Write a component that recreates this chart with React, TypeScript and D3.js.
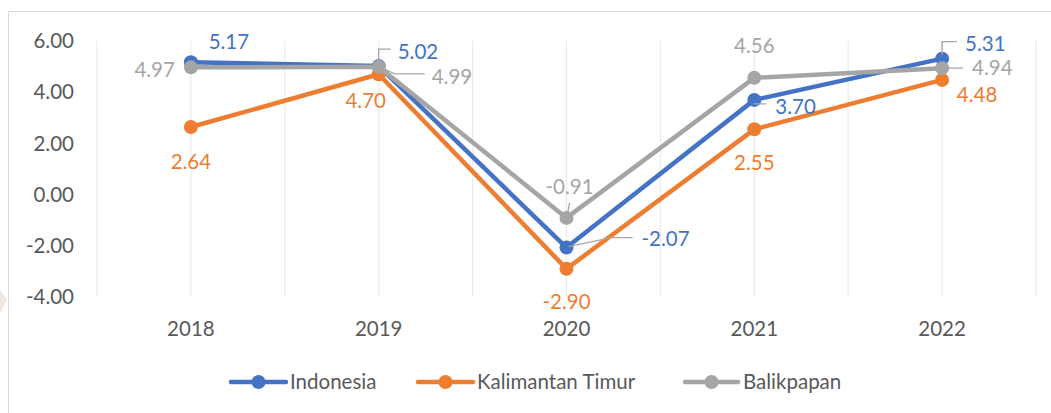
import React from "react";
import * as d3 from "d3";

const years = ["2018", "2019", "2020", "2021", "2022"];
const indonesia = [5.17, 5.02, -2.07, 3.7, 5.31];
const kaltim = [2.64, 4.7, -2.9, 2.55, 4.48];
const balikpapan = [4.97, 4.99, -0.91, 4.56, 4.94];
const seriesNames = ["Indonesia", "Kalimantan Timur", "Balikpapan"];
const yTicks = [-4, -2, 0, 2, 4, 6];

const colors = ["#4472C4", "#ED7D31", "#A5A5A5"];
const W = 1051;
const H = 413;
const FONT = "Lato, 'Open Sans', sans-serif";
const FS = 20.5;

type Lab = { dx: number; dy: number; anchor: string; leader?: [number, number][] };

// label placement offsets relative to each point (style only)
const labelPos: Lab[][] = [
  [
    { dx: 38, dy: -20, anchor: "middle" },
    { dx: 19, dy: -14, anchor: "start", leader: [[0, -4], [0, -17], [12, -17]] },
    { dx: 75, dy: -9, anchor: "start", leader: [[2, -1], [45, -10], [66, -10]] },
    { dx: 21, dy: 7, anchor: "start", leader: [[0, 3], [0, 4], [12, 4]] },
    { dx: 23, dy: -15, anchor: "start", leader: [[0, -4], [0, -17], [15, -17]] },
  ],
  [
    { dx: 0, dy: 35, anchor: "middle" },
    { dx: -13, dy: 27, anchor: "middle" },
    { dx: 0, dy: 33, anchor: "middle" },
    { dx: 0, dy: 34, anchor: "middle" },
    { dx: 35, dy: 15, anchor: "middle" },
  ],
  [
    { dx: -16, dy: 2, anchor: "end" },
    { dx: 53, dy: 10, anchor: "start", leader: [[3, 1], [16, 7], [46, 7]] },
    { dx: 3, dy: -31, anchor: "middle", leader: [[1, -4], [3, -15]] },
    { dx: 0, dy: -32, anchor: "middle" },
    { dx: 30, dy: 0, anchor: "start", leader: [[6, 0], [21, 0]] },
  ],
];

export default function App() {
  const x = d3.scaleBand<string>().domain(years).range([97, 1036]).padding(0);
  const cx = (d: string) => (x(d) as number) + x.bandwidth() / 2;
  const y = d3.scaleLinear().domain([-4, 6]).range([297, 41]);
  const f2 = d3.format(".2f");
  const fmt = (v: number) => f2(v).replace("\u2212", "-");
  const all = [indonesia, kaltim, balikpapan];
  const line = d3
    .line<number>()
    .x((_, i) => cx(years[i]))
    .y((v) => y(v));

  const gridXs: number[] = [];
  years.forEach((yr) => {
    gridXs.push(x(yr) as number);
    gridXs.push(cx(yr));
  });
  gridXs.push(x.range()[1]);

  const legendItems = [
    { x1: 231, x2: 286, tx: 290 },
    { x1: 418, x2: 473, tx: 477 },
    { x1: 685, x2: 738, tx: 743 },
  ];

  return (
    <svg
      width={W}
      height={H}
      style={{ position: "absolute", left: 0, top: 0, background: "#fff" }}
      fontFamily={FONT}
    >
      <rect x={0} y={0} width={W} height={H} fill="#fff" />
      <path d="M0,290 L7,300 L0,313 Z" fill="#f3e6df" />
      <rect x={8.5} y={11.5} width={1100} height={500} fill="#fff" stroke="#D9D9D9" strokeWidth={1} />
      {gridXs.map((gx, i) => (
        <line key={i} x1={gx} x2={gx} y1={y(6)} y2={y(-4)} stroke="#EBEBEB" strokeWidth={1.2} />
      ))}
      {yTicks.map((t) => (
        <text key={t} x={74} y={y(t)} dy="0.35em" textAnchor="end" fontSize={FS} fill="#595959">
          {fmt(t)}
        </text>
      ))}
      {years.map((yr) => (
        <text key={yr} x={cx(yr)} y={329} dy="0.35em" textAnchor="middle" fontSize={FS} fill="#595959">
          {yr}
        </text>
      ))}
      {all.map((s, si) => (
        <g key={si}>
          <path d={line(s) || ""} fill="none" stroke={colors[si]} strokeWidth={4.5} strokeLinejoin="round" />
          {s.map((v, i) => (
            <circle key={i} cx={cx(years[i])} cy={y(v)} r={7} fill={colors[si]} />
          ))}
        </g>
      ))}
      {all.map((s, si) =>
        s.map((v, i) => {
          const px = cx(years[i]);
          const py = y(v);
          const lp = labelPos[si][i];
          return (
            <g key={`${si}-${i}`}>
              {lp.leader && (
                <polyline
                  points={lp.leader.map(([a, b]) => `${px + a},${py + b}`).join(" ")}
                  fill="none"
                  stroke="#A6A6A6"
                  strokeWidth={1.3}
                />
              )}
              <text
                x={px + lp.dx}
                y={py + lp.dy}
                dy="0.35em"
                textAnchor={lp.anchor}
                fontSize={FS}
                fill={colors[si]}
              >
                {fmt(v)}
              </text>
            </g>
          );
        })
      )}
      {legendItems.map((it, i) => (
        <g key={i}>
          <line x1={it.x1} x2={it.x2} y1={382} y2={382} stroke={colors[i]} strokeWidth={4.5} strokeLinecap="round" />
          <circle cx={(it.x1 + it.x2) / 2} cy={382} r={7} fill={colors[i]} />
          <text x={it.tx} y={382} dy="0.35em" fontSize={FS} fill="#595959">
            {seriesNames[i]}
          </text>
        </g>
      ))}
    </svg>
  );
}
